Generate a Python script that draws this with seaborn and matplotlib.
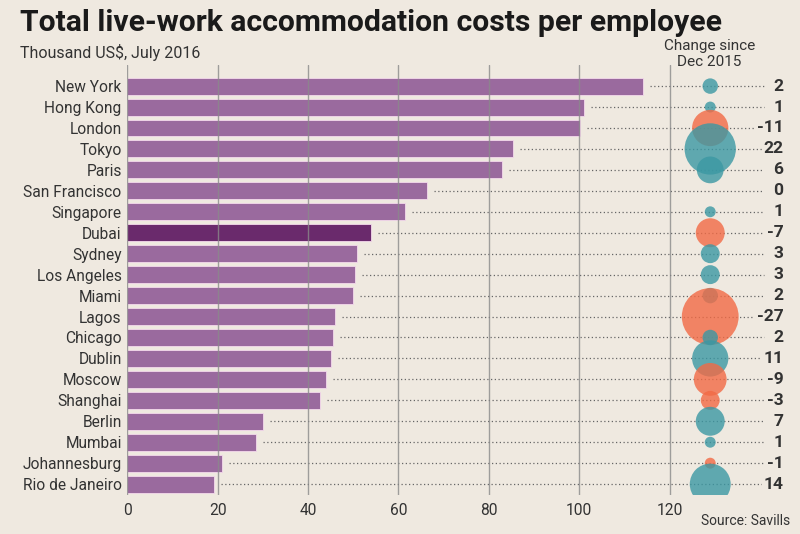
import matplotlib
matplotlib.use("Agg")
import matplotlib.pyplot as plt
import seaborn as sns
import pandas as pd
import numpy as np

cities = ["New York", "Hong Kong", "London", "Tokyo", "Paris", "San Francisco",
          "Singapore", "Dubai", "Sydney", "Los Angeles", "Miami", "Lagos",
          "Chicago", "Dublin", "Moscow", "Shanghai", "Berlin", "Mumbai",
          "Johannesburg", "Rio de Janeiro"]
costs = [114.2, 101.1, 100.2, 85.4, 83.0, 66.4, 61.5, 54.0, 50.9, 50.4, 50.0,
         46.0, 45.6, 45.1, 44.0, 42.7, 30.0, 28.5, 21.0, 19.2]
changes = [2, 1, -11, 22, 6, 0, 1, -7, 3, 3, 2, -27, 2, 11, -9, -3, 7, 1, -1, 14]
x_ticks = [0, 20, 40, 60, 80, 100, 120]

BG = "#efe9e0"
PURPLE = "#9a6a9e"
DARK_PURPLE = "#6a2a6c"
TEAL = "#3b98a3"
ORANGE = "#f26a45"
TEXT = "#333333"

sns.set_theme(style="white")
plt.rcParams['font.family'] = ['Roboto', 'DejaVu Sans']

df = pd.DataFrame({"city": cities, "cost": costs, "change": changes})
palette = {c: (DARK_PURPLE if c == "Dubai" else PURPLE) for c in cities}

fig = plt.figure(figsize=(8, 5.34), dpi=100, facecolor=BG)
ax = fig.add_axes([0.159, 0.073, 0.835, 0.805])
ax.set_facecolor(BG)

sns.barplot(data=df, x="cost", y="city", hue="city", palette=palette,
            legend=False, orient="h", width=0.81, saturation=1,
            edgecolor="#f4d9ec", linewidth=0.6, ax=ax, zorder=2)

x_bubble = 129
x_dot_end = 141
for i, (c, ch) in enumerate(zip(costs, changes)):
    ax.plot([c + 1.5, x_dot_end], [i, i], linestyle=(0, (1, 2)), color="#666666",
            lw=0.9, zorder=1)
    ax.text(145.2, i, str(ch), ha="right", va="center", fontsize=12.5,
            fontweight="bold", color=TEXT, zorder=5,
            bbox=dict(facecolor=BG, edgecolor="none", pad=1.0))

for xt in x_ticks:
    ax.axvline(xt, color="#8a8a8a", lw=1.0, alpha=0.8, zorder=3)

bub = df[df["change"] != 0].copy()
bub["pos"] = [cities.index(c) for c in bub["city"]]
bub["x"] = x_bubble
bub["sign"] = np.where(bub["change"] > 0, "up", "down")
bub["size"] = bub["change"].abs()
sns.scatterplot(data=bub, x="x", y="pos", hue="sign", size="size",
                sizes=(62, 62 * 27), size_norm=(1, 27),
                palette={"up": TEAL, "down": ORANGE}, alpha=0.8,
                edgecolor="none", legend=False, ax=ax, zorder=4)

ax.set_xlim(0, 147.8)
ax.set_ylim(19.52, -1.0)
ax.set_xticks(x_ticks)
ax.set_xlabel("")
ax.set_ylabel("")
ax.tick_params(axis="both", length=0, labelsize=11.2, colors=TEXT, pad=4)
ax.tick_params(axis="x", pad=6)
for s in ax.spines.values():
    s.set_visible(False)

fig.text(0.025, 0.957, "Total live-work accommodation costs per employee",
         fontsize=21.7, fontweight="bold", color="#1a1a1a", va="center")
fig.text(0.025, 0.902, "Thousand US$, July 2016", fontsize=11.5,
         color=TEXT, va="center")
fig.text(0.887, 0.899, "Change since\nDec 2015", fontsize=11, color=TEXT,
         ha="center", va="center", linespacing=1.15)
fig.text(0.988, 0.024, "Source: Savills", fontsize=10, color=TEXT,
         ha="right", va="center")

fig.savefig("out.png", dpi=100, facecolor=BG)
